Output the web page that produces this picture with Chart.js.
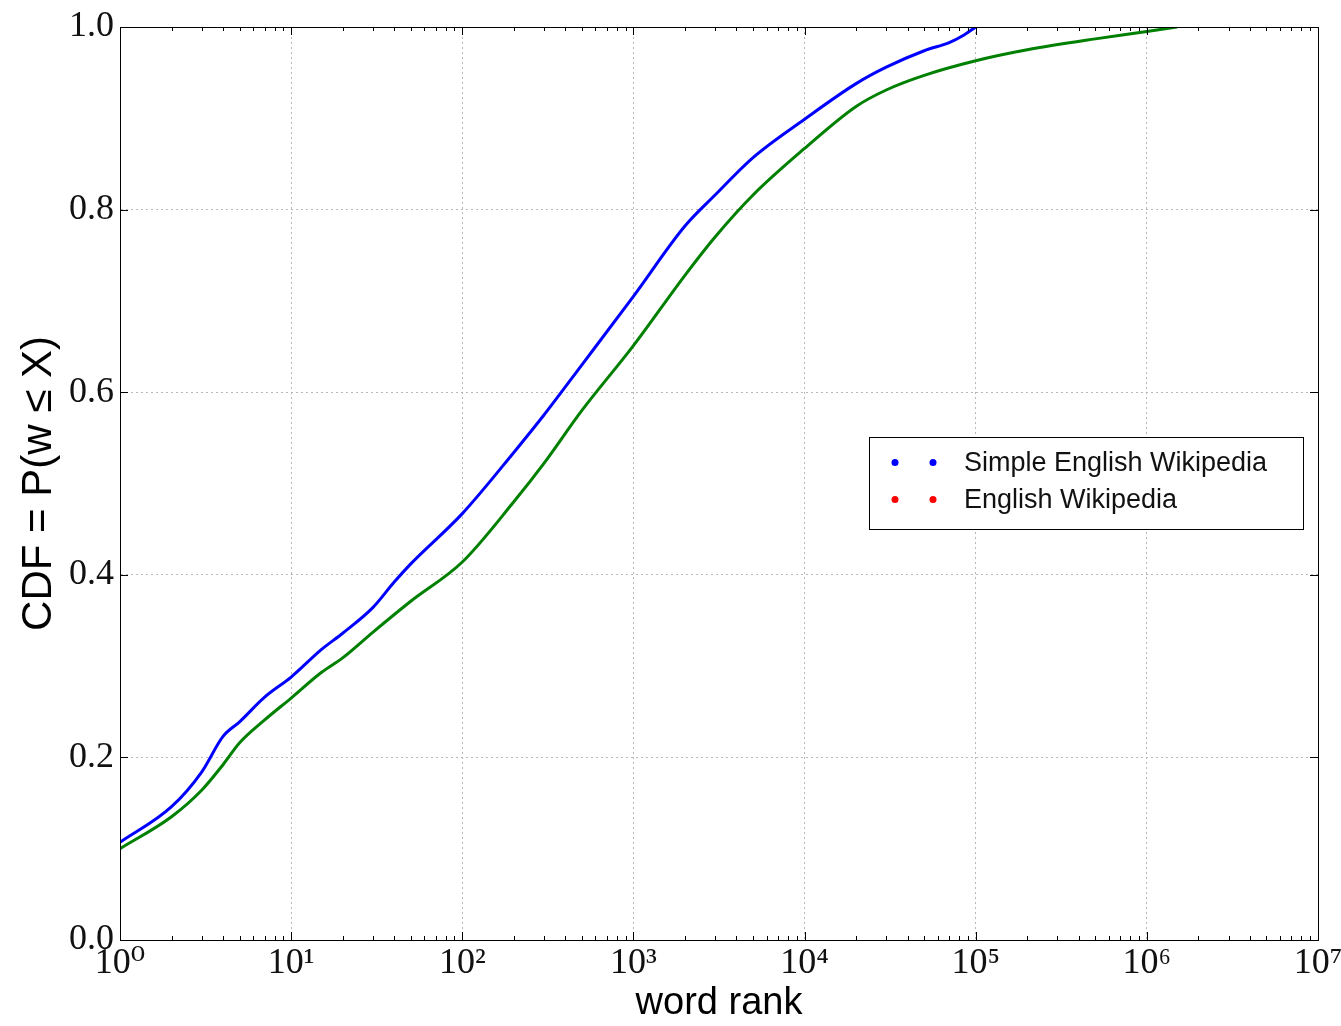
<!DOCTYPE html>
<html>
<head>
<meta charset="utf-8">
<script src="https://cdn.jsdelivr.net/npm/chart.js@4/dist/chart.umd.min.js"></script>
<style>
  html, body { margin: 0; padding: 0; background: #fff; }
  #wrap { width: 1341px; height: 1026px; }
</style>
</head>
<body>
<div id="wrap"><canvas id="c" width="1341" height="1026"></canvas></div>
<script>
// ---- data ----
const simpleRanks = [1, 2, 3, 4, 5, 7, 10, 15, 20, 30, 40, 50, 100, 200, 300, 500, 1000, 2000, 3000, 5000, 10000, 20000, 30000, 50000, 70000, 85000, 100000];
const simpleCDF   = [0.107, 0.146, 0.184, 0.223, 0.239, 0.266, 0.288, 0.318, 0.336, 0.364, 0.392, 0.412, 0.467, 0.534, 0.575, 0.630, 0.705, 0.782, 0.816, 0.857, 0.899, 0.938, 0.956, 0.974, 0.983, 0.991, 1.000];

const englishRanks = [1, 2, 3, 4, 5, 7, 10, 15, 20, 30, 50, 100, 200, 300, 500, 1000, 2000, 3000, 5000, 10000, 20000, 30000, 50000, 100000, 200000, 500000, 1000000, 1500000];
const englishCDF   = [0.100, 0.135, 0.164, 0.192, 0.216, 0.241, 0.265, 0.293, 0.309, 0.337, 0.371, 0.414, 0.480, 0.522, 0.580, 0.651, 0.728, 0.770, 0.816, 0.867, 0.913, 0.931, 0.947, 0.963, 0.975, 0.987, 0.995, 1.000];

const seriesLabels = ['Simple English Wikipedia', 'English Wikipedia'];
const legendDotColors = ['#0000ff', '#ff0000'];
const xTickExponents = [0, 1, 2, 3, 4, 5, 6, 7];
const yTickValues = [0, 0.2, 0.4, 0.6, 0.8, 1.0];
const xTitle = 'word rank';
const yTitle = 'CDF = P(w \u2264 X)';

const sup = {'0':'\u2070','1':'\u00b9','2':'\u00b2','3':'\u00b3','4':'\u2074','5':'\u2075','6':'\u2076','7':'\u2077','8':'\u2078','9':'\u2079'};

const toXY = (xs, ys) => xs.map((x, i) => ({ x: x, y: ys[i] }));

const decorPlugin = {
  id: 'decor',
  afterDraw(chart) {
    const ctx = chart.ctx;
    const a = chart.chartArea;
    const xs = chart.scales.x, ys = chart.scales.y;
    ctx.save();
    ctx.strokeStyle = '#000';
    ctx.lineWidth = 1;
    // frame
    ctx.strokeRect(Math.round(a.left) + 0.5, Math.round(a.top) + 0.5, Math.round(a.right - a.left), Math.round(a.bottom - a.top));
    // x ticks (inward) top & bottom
    ctx.beginPath();
    for (let e = 0; e < 7; e++) {
      for (let m = 1; m <= 9; m++) {
        const v = m * Math.pow(10, e);
        const px = Math.round(xs.getPixelForValue(v)) + 0.5;
        const len = m === 1 ? 8 : 4;
        ctx.moveTo(px, a.bottom); ctx.lineTo(px, a.bottom - len);
        ctx.moveTo(px, a.top); ctx.lineTo(px, a.top + len);
      }
    }
    yTickValues.forEach(v => {
      const py = Math.round(ys.getPixelForValue(v)) + 0.5;
      ctx.moveTo(a.left, py); ctx.lineTo(a.left + 8, py);
      ctx.moveTo(a.right, py); ctx.lineTo(a.right - 8, py);
    });
    ctx.stroke();

    // legend box
    const bx = 869.5, by = 437.5, bw = 434, bh = 92;
    ctx.fillStyle = '#fff';
    ctx.fillRect(bx, by, bw, bh);
    ctx.strokeStyle = '#000';
    ctx.strokeRect(bx, by, bw, bh);
    ctx.font = '27px "Liberation Sans", Arial, sans-serif';
    ctx.textBaseline = 'middle';
    ctx.textAlign = 'left';
    seriesLabels.forEach((lab, i) => {
      const cy = by + 25 + i * 37;
      ctx.fillStyle = legendDotColors[i];
      [895, 933].forEach(dx => {
        ctx.beginPath(); ctx.arc(dx, cy, 3.5, 0, Math.PI * 2); ctx.fill();
      });
      ctx.fillStyle = '#111';
      ctx.fillText(lab, 964, cy + 1);
    });
    ctx.restore();
  }
};

new Chart(document.getElementById('c'), {
  type: 'line',
  data: {
    datasets: [
      { label: seriesLabels[0], data: toXY(simpleRanks, simpleCDF), borderColor: '#0000ff', borderWidth: 3, pointRadius: 0, fill: false, cubicInterpolationMode: 'monotone' },
      { label: seriesLabels[1], data: toXY(englishRanks, englishCDF), borderColor: '#008000', borderWidth: 3, pointRadius: 0, fill: false, cubicInterpolationMode: 'monotone' }
    ]
  },
  options: {
    responsive: false,
    animation: false,
    devicePixelRatio: 1,
    layout: { padding: { top: 27, right: 23, left: 0, bottom: 0 } },
    plugins: { legend: { display: false }, tooltip: { enabled: false } },
    scales: {
      x: {
        type: 'logarithmic', min: 1, max: 1e7,
        afterBuildTicks: s => { s.ticks = xTickExponents.map(e => ({ value: Math.pow(10, e), major: true })); },
        afterFit: s => { s.height = 86; s.paddingLeft = 0; s.paddingRight = 0; },
        ticks: {
          autoSkip: false, maxRotation: 0, padding: 2, color: '#111',
          font: { family: '"Liberation Serif", "DejaVu Serif", serif', size: 36 },
          callback: v => { const e = Math.round(Math.log10(v)); return '10' + String(e).split('').map(d => sup[d]).join(''); }
        },
        grid: { color: '#b8b8b8', lineWidth: 1, drawTicks: false },
        border: { display: true, color: '#000', dash: [2, 3] },
        title: { display: true, text: xTitle, color: '#000', padding: { top: 0, bottom: 0 }, font: { family: '"Liberation Sans", Arial, sans-serif', size: 38 } }
      },
      y: {
        type: 'linear', min: 0, max: 1,
        afterBuildTicks: s => { s.ticks = yTickValues.map(v => ({ value: v })); },
        afterFit: s => { s.width = 120; s.paddingTop = 0; s.paddingBottom = 0; },
        ticks: {
          padding: 6, color: '#111',
          font: { family: '"Liberation Serif", "DejaVu Serif", serif', size: 36 },
          callback: v => Number(v).toFixed(1)
        },
        grid: { color: '#b8b8b8', lineWidth: 1, drawTicks: false },
        border: { display: true, color: '#000', dash: [2, 3] },
        title: { display: true, text: yTitle, color: '#000', padding: { top: 14, bottom: 0 }, font: { family: '"Liberation Sans", Arial, sans-serif', size: 42 } }
      }
    }
  },
  plugins: [decorPlugin]
});
</script>
</body>
</html>
